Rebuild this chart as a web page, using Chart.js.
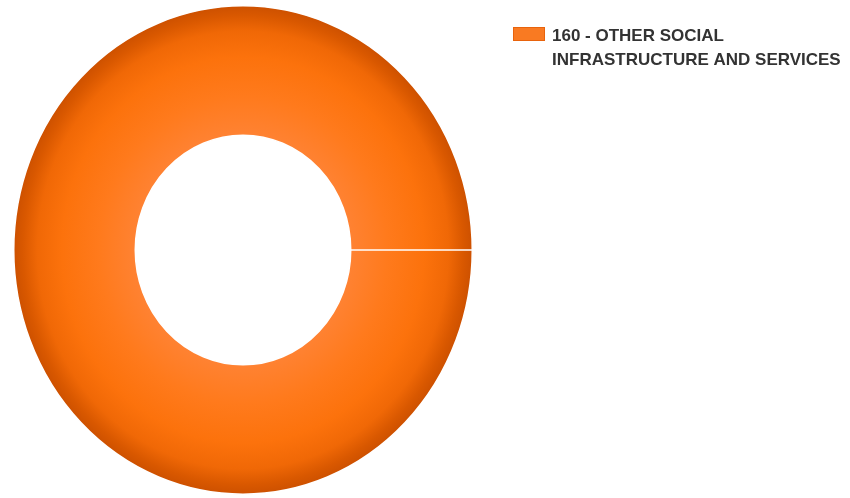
<!DOCTYPE html>
<html>
<head>
<meta charset="utf-8">
<script src="https://cdn.jsdelivr.net/npm/chart.js@4.4.1/dist/chart.umd.min.js"></script>
<style>
  html, body { margin: 0; padding: 0; background: #ffffff; }
  #wrap { width: 850px; height: 498px; position: relative; }
</style>
</head>
<body>
<div id="wrap"><canvas id="grafico"></canvas></div>
<script>
// datos del grafico
const categorias = ['160 - OTHER SOCIAL INFRASTRUCTURE AND SERVICES'];
const valores = [100];
const lineasLeyenda = [['160 - OTHER SOCIAL', 'INFRASTRUCTURE AND SERVICES']];

// la torta original esta un poco estirada en vertical
const ESTIRAR_Y = 245 / 230;

const estirarAnillo = {
    id: 'estirarAnillo',
    beforeDatasetsDraw(chart) {
        const a = chart.chartArea;
        const cx = (a.left + a.right) / 2;
        const cy = (a.top + a.bottom) / 2;
        const ctx = chart.ctx;
        ctx.save();
        ctx.translate(cx, cy);
        ctx.scale(1, ESTIRAR_Y);
        ctx.translate(-cx, -cy);
    },
    afterDatasetsDraw(chart) {
        chart.ctx.restore();
    }
};

// leyenda dibujada a mano (texto en dos lineas)
const leyendaManual = {
    id: 'leyendaManual',
    afterDraw(chart) {
        const ctx = chart.ctx;
        ctx.save();
        lineasLeyenda.forEach(function (lineas, i) {
            const y0 = 27 + i * 60;
            ctx.fillStyle = '#f97a22';
            ctx.fillRect(513, y0, 32, 14);
            ctx.strokeStyle = '#e8630c';
            ctx.lineWidth = 1;
            ctx.strokeRect(513.5, y0 + 0.5, 31, 13);
            ctx.fillStyle = '#333333';
            ctx.font = 'bold 17px "Liberation Sans Narrow", "Arial Narrow", "Liberation Sans", sans-serif';
            ctx.textBaseline = 'alphabetic';
            lineas.forEach(function (t, j) {
                ctx.fillText(t, 552, y0 + 14 + j * 24);
            });
        });
        ctx.restore();
    }
};

function degradado(context) {
    const chart = context.chart;
    const a = chart.chartArea;
    if (!a) return '#ff7a1a';
    const cx = (a.left + a.right) / 2;
    const cy = (a.top + a.bottom) / 2;
    const rOut = Math.min(a.right - a.left, a.bottom - a.top) / 2;
    const rIn = rOut * 0.47;
    const g = chart.ctx.createRadialGradient(cx, cy, rIn, cx, cy, rOut);
    g.addColorStop(0, '#ff8232');
    g.addColorStop(0.3, '#ff7a1c');
    g.addColorStop(0.6, '#fc720c');
    g.addColorStop(0.8, '#f06806');
    g.addColorStop(0.92, '#d95800');
    g.addColorStop(1, '#cc5000');
    return g;
}

new Chart(document.getElementById('grafico'), {
    type: 'doughnut',
    data: {
        labels: categorias,
        datasets: [{
            data: valores,
            backgroundColor: degradado,
            borderColor: '#ffffff',
            borderWidth: 1.5,
            hoverOffset: 0
        }]
    },
    options: {
        responsive: true,
        maintainAspectRatio: false,
        animation: false,
        cutout: '47%',
        rotation: 90,
        layout: { padding: { left: 13, right: 377, top: 20, bottom: 18 } },
        plugins: {
            legend: { display: false },
            tooltip: { enabled: false }
        }
    },
    plugins: [estirarAnillo, leyendaManual]
});
</script>
</body>
</html>
